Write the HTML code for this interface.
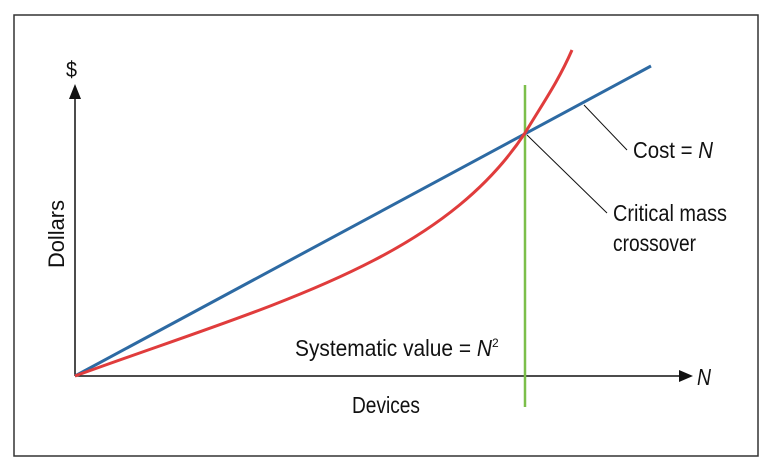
<!DOCTYPE html>
<html><head><style>
html,body{margin:0;padding:0;background:#fff;}
svg text{font-family:"Liberation Sans Narrow","Liberation Sans",sans-serif;fill:#111;}
</style></head><body>
<svg width="766" height="466" viewBox="0 0 766 466" xmlns="http://www.w3.org/2000/svg">
<rect x="14" y="15" width="744" height="441" fill="#fff" stroke="#333" stroke-width="1.5"/>
<line x1="75" y1="376" x2="75" y2="98" stroke="#111" stroke-width="1.5"/>
<polygon points="75,84 69,99 81,99" fill="#111"/>
<line x1="75" y1="376" x2="680" y2="376" stroke="#111" stroke-width="1.5"/>
<polygon points="693,376 679,370 679,382" fill="#111"/>
<line x1="525" y1="85" x2="525" y2="407" stroke="#7cbf4a" stroke-width="2.5"/>
<line x1="75" y1="376" x2="651" y2="66" stroke="#2d6aa3" stroke-width="3"/>
<path d="M75,376 C270,305 440,262 525,133 C543,103 558,82 572,50" fill="none" stroke="#e03c3c" stroke-width="3"/>
<line x1="584" y1="105" x2="627" y2="150" stroke="#111" stroke-width="1"/>
<line x1="527" y1="135" x2="607" y2="213" stroke="#111" stroke-width="1"/>
<text x="66" y="77" font-size="22" textLength="11" lengthAdjust="spacingAndGlyphs">$</text>
<text x="697" y="385" font-size="23" font-style="italic" textLength="14" lengthAdjust="spacingAndGlyphs">N</text>
<text x="633" y="158" font-size="23" textLength="80" lengthAdjust="spacingAndGlyphs">Cost = <tspan font-style="italic">N</tspan></text>
<text x="613" y="221" font-size="23" textLength="114" lengthAdjust="spacingAndGlyphs">Critical mass</text>
<text x="613" y="251" font-size="23" textLength="83" lengthAdjust="spacingAndGlyphs">crossover</text>
<text x="295" y="356" font-size="23" textLength="197" lengthAdjust="spacingAndGlyphs">Systematic value = <tspan font-style="italic">N</tspan></text>
<text x="492" y="347" font-size="12">2</text>
<text x="352" y="413" font-size="23" textLength="68" lengthAdjust="spacingAndGlyphs">Devices</text>
<text x="0" y="0" font-size="22" textLength="68" lengthAdjust="spacingAndGlyphs" transform="translate(64,268) rotate(-90)">Dollars</text>
</svg>
</body></html>
